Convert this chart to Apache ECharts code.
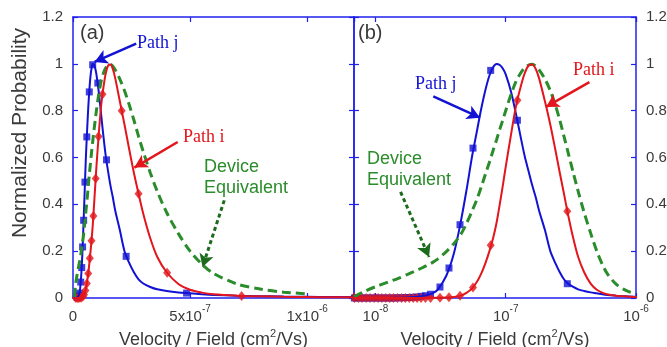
<!DOCTYPE html>
<html>
<head>
<meta charset="utf-8">
<script src="https://cdn.jsdelivr.net/npm/echarts@6/dist/echarts.min.js"></script>
<style>
  html, body { margin: 0; padding: 0; background: #fff; }
  #chart { width: 667px; height: 347px; }
</style>
</head>
<body>
<div id="chart"></div>
<script>
// velocity / field sample points (cm2/Vs), shared by both panels
var vf = [6.85e-9, 8e-9, 1e-8, 1.25e-8, 1.5e-8, 1.75e-8, 2e-8, 2.25e-8, 2.5e-8, 2.75e-8,
  3e-8, 3.5e-8, 4e-8, 4.5e-8, 5e-8, 5.5e-8, 6e-8, 6.5e-8, 7e-8, 7.5e-8,
  8e-8, 8.5e-8, 9e-8, 9.5e-8, 1e-7, 1.1e-7, 1.2e-7, 1.3e-7, 1.4e-7, 1.5e-7,
  1.6e-7, 1.7e-7, 1.8e-7, 2e-7, 2.2e-7, 2.4e-7, 2.6e-7, 2.8e-7, 3e-7, 3.3e-7,
  3.6e-7, 4e-7, 4.5e-7, 5e-7, 5.5e-7, 6e-7, 7e-7, 8e-7, 9e-7, 1e-6, 1.1e-6, 1.2e-6];

// normalized probability of each curve at vf
var pathJ = [0, 0, 0, 0, 0.001, 0.002, 0.004, 0.008, 0.013, 0.021,
  0.035, 0.095, 0.19, 0.32, 0.46, 0.6, 0.71, 0.81, 0.89, 0.95,
  0.985, 0.999, 0.995, 0.98, 0.955, 0.88, 0.785, 0.69, 0.605, 0.54,
  0.48, 0.43, 0.375, 0.29, 0.2, 0.15, 0.11, 0.08, 0.062, 0.047,
  0.037, 0.03, 0.024, 0.02, 0.016, 0.013, 0.01, 0.008, 0.006, 0.005, 0.004, 0.004];
var pathI = [0, 0, 0, 0, 0, 0, 0, 0, 0, 0,
  0.001, 0.002, 0.004, 0.01, 0.022, 0.04, 0.068, 0.105, 0.15, 0.2,
  0.255, 0.32, 0.4, 0.48, 0.56, 0.7, 0.82, 0.9, 0.96, 0.993,
  0.997, 0.978, 0.94, 0.84, 0.74, 0.635, 0.535, 0.445, 0.36, 0.255,
  0.175, 0.11, 0.06, 0.035, 0.023, 0.016, 0.01, 0.007, 0.005, 0.004, 0.003, 0.003];
var device = [0.005, 0.025, 0.048, 0.068, 0.084, 0.1, 0.114, 0.127, 0.14, 0.152,
  0.166, 0.198, 0.232, 0.27, 0.318, 0.37, 0.42, 0.475, 0.53, 0.58,
  0.63, 0.675, 0.72, 0.76, 0.8, 0.87, 0.925, 0.96, 0.983, 0.995,
  0.998, 0.99, 0.975, 0.935, 0.885, 0.825, 0.76, 0.69, 0.625, 0.535,
  0.455, 0.365, 0.275, 0.2, 0.145, 0.105, 0.06, 0.038, 0.025, 0.018, null, null];

// marker points, panel (a)
var jMarkA = [[1.8e-8, 0.002], [2.3e-8, 0.009], [2.75e-8, 0.021], [3.3e-8, 0.068], [3.73e-8, 0.13],
  [4.1e-8, 0.218], [4.55e-8, 0.332], [5.1e-8, 0.495], [5.9e-8, 0.688], [6.95e-8, 0.88],
  [8.4e-8, 0.996], [1.06e-7, 0.918], [1.43e-7, 0.59], [2.27e-7, 0.178], [4.85e-7, 0.021]];
var iMarkA = [[1.2e-8, 0], [1.8e-8, 0], [2.4e-8, 0], [3e-8, 0.001], [3.6e-8, 0.002],
  [4.2e-8, 0.006], [4.7e-8, 0.014], [5.3e-8, 0.032], [5.9e-8, 0.062], [6.5e-8, 0.105],
  [7.2e-8, 0.17], [7.9e-8, 0.245], [8.7e-8, 0.35], [9.7e-8, 0.51], [1.09e-7, 0.69],
  [1.26e-7, 0.87], [2.08e-7, 0.8], [2.8e-7, 0.445], [4.02e-7, 0.108], [7.2e-7, 0.009], [1.2e-6, 0.003]];

// marker points, panel (b): shared x, one y list per path
var markXB = [6.9e-9, 7.4e-9, 7.9e-9, 8.5e-9, 9.1e-9, 9.8e-9, 1.05e-8, 1.12e-8, 1.2e-8, 1.29e-8,
  1.38e-8, 1.48e-8, 1.59e-8, 1.7e-8, 1.82e-8, 1.95e-8, 2.09e-8, 2.24e-8, 2.42e-8,
  2.65e-8, 3.13e-8, 3.67e-8, 4.46e-8, 5.61e-8, 7.67e-8, 1.23e-7, 2.97e-7];
var jMarkB = [0, 0, 0, 0, 0, 0, 0, 0, 0, 0,
  0, 0.001, 0.001, 0.002, 0.002, 0.003, 0.004, 0.007, 0.01,
  0.016, 0.047, 0.128, 0.313, 0.64, 0.972, 0.759, 0.061];
var iMarkB = [0, 0, 0, 0, 0, 0, 0, 0, 0, 0,
  0, 0, 0, 0, 0, 0, 0, 0, 0,
  0, 0.001, 0.003, 0.01, 0.045, 0.225, 0.845, 0.37];

// annotation arrows [from, to] in data units
var arrowJA = [[2.7e-7, 1.086], [9.2e-8, 1.008]];
var arrowIA = [[4.47e-7, 0.666], [2.62e-7, 0.557]];
var arrowDA = [[6.46e-7, 0.417], [5.53e-7, 0.132]];
var arrowJB = [[2.78e-8, 0.861], [6.35e-8, 0.77]];
var arrowIB = [[4.39e-7, 0.922], [2.04e-7, 0.816]];
var arrowDB = [[1.56e-8, 0.453], [2.58e-8, 0.175]];

var blue = '#1212d4';
var red = '#e2161c';
var green = '#2a8c2a';
var dkGreen = '#1c6a1c';
var axisBlue = '#2020ee';
var txt = '#3a3a3a';
var sans = '"Liberation Sans", Arial, sans-serif';
var serif = '"Liberation Serif", "Times New Roman", serif';

function pairs (xs, ys) {
  return xs.map(function (x, i) { return [x, ys[i]]; });
}

var tickRich = {
  b: { fontSize: 15, fontFamily: sans, color: txt, padding: [5, 0, 0, 0], verticalAlign: 'bottom' },
  s: { fontSize: 10, fontFamily: sans, color: txt, verticalAlign: 'top' }
};
var nameRich = {
  t: { fontSize: 18, fontFamily: sans, color: txt, padding: [2, 0, 0, 0], verticalAlign: 'bottom' },
  s: { fontSize: 11, fontFamily: sans, color: txt, verticalAlign: 'top' }
};
var xName = '{t|Velocity / Field (cm}{s|2}{t|/Vs)}';

function near (a, b) { return Math.abs(a - b) < Math.abs(b) * 1e-6; }

function frameAxis (extra) {
  var o = {
    axisLine: { show: true, onZero: false, lineStyle: { color: axisBlue, width: 1.5 } },
    axisTick: { show: true, inside: true, length: 5, lineStyle: { color: axisBlue, width: 1.2 } },
    splitLine: { show: false },
    axisLabel: { show: false }
  };
  for (var k in extra) o[k] = extra[k];
  return o;
}

function yAxis (grid, pos, labels) {
  var o = frameAxis({ type: 'value', min: 0, max: 1.2, interval: 0.2, gridIndex: grid, position: pos });
  if (labels) {
    o.axisLabel = { show: true, color: txt, fontSize: 15, fontFamily: sans, margin: 10 };
  }
  return o;
}

var linAxis = { type: 'value', min: 0, max: 1.2e-6, interval: 5e-7 };
var logAxis = { type: 'log', logBase: 10, min: 6.85e-9, max: 1e-6 };

function xAxis (grid, base, pos, labels) {
  var o = frameAxis({ gridIndex: grid, position: pos });
  for (var k in base) o[k] = base[k];
  if (labels) {
    o.axisLabel = {
      show: true, margin: 6, showMinLabel: base.type !== 'log', showMaxLabel: base.type === 'log',
      rich: tickRich,
      formatter: base.type === 'log' ? function (v) {
        var n = Math.round(Math.log10(v));
        return near(v, Math.pow(10, n)) ? '{b|10}{s|' + n + '}' : '';
      } : function (v) {
        if (v === 0) return '{b|0}';
        if (near(v, 5e-7)) return '{b|5x10}{s|-7}';
        if (near(v, 1e-6)) return '{b|1x10}{s|-6}';
        return '';
      }
    };
    o.name = xName;
    o.nameLocation = 'middle';
    o.nameGap = 28;
    o.nameTextStyle = { rich: nameRich };
  }
  return o;
}

function arrow (pts, color, width, dash) {
  return {
    silent: true,
    animation: false,
    symbol: ['none', 'arrow'],
    symbolSize: [11, 13],
    label: { show: false },
    emphasis: { disabled: true },
    lineStyle: { color: color, width: width, type: dash || 'solid' },
    data: [[{ coord: pts[0] }, { coord: pts[1] }]]
  };
}

function panel (xi, yi, jMarks, iMarks, arrows) {
  var common = { xAxisIndex: xi, yAxisIndex: yi, animation: false, silent: true };
  function mk (o) { for (var k in common) o[k] = common[k]; return o; }
  return [
    mk({ type: 'line', data: pairs(vf, pathJ), smooth: 0.3, showSymbol: false,
      lineStyle: { color: blue, width: 2 }, markLine: arrows[0] }),
    mk({ type: 'scatter', data: jMarks, symbol: 'rect', symbolSize: 7, itemStyle: { color: blue } }),
    mk({ type: 'line', data: pairs(vf, device), smooth: 0.3, showSymbol: false, connectNulls: false,
      lineStyle: { color: green, width: 3, type: [9, 5] }, markLine: arrows[2] }),
    mk({ type: 'line', data: pairs(vf, pathI), smooth: 0.3, showSymbol: false,
      lineStyle: { color: red, width: 2 }, markLine: arrows[1] }),
    mk({ type: 'scatter', data: iMarks, symbol: 'diamond', symbolSize: [8, 10], itemStyle: { color: red } })
  ];
}

function label (x, y, text, color, family, size) {
  return {
    type: 'text', left: x, top: y, silent: true,
    style: { text: text, fill: color, fontFamily: family, fontSize: size, lineHeight: 21 }
  };
}

var chart = echarts.init(document.getElementById('chart'));
chart.setOption({
  animation: false,
  backgroundColor: '#fff',
  grid: [
    { left: 73, top: 17, width: 281, height: 281, outerBoundsMode: 'none' },
    { left: 354, top: 17, width: 282, height: 281, outerBoundsMode: 'none' }
  ],
  xAxis: [
    xAxis(0, linAxis, 'bottom', true),
    xAxis(0, linAxis, 'top', false),
    xAxis(1, logAxis, 'bottom', true),
    xAxis(1, logAxis, 'top', false)
  ],
  yAxis: [
    (function () {
      var o = yAxis(0, 'left', true);
      o.name = 'Normalized Probability';
      o.nameLocation = 'middle';
      o.nameGap = 42;
      o.nameTextStyle = { color: txt, fontSize: 21, fontFamily: sans, padding: [0, 0, 0, 49] };
      return o;
    })(),
    yAxis(0, 'right', false),
    yAxis(1, 'left', false),
    yAxis(1, 'right', true)
  ],
  series: [].concat(
    panel(0, 0, jMarkA, iMarkA, [arrow(arrowJA, blue, 2.5), arrow(arrowIA, red, 2.5), arrow(arrowDA, dkGreen, 3, [4, 3])]),
    panel(2, 3, pairs(markXB, jMarkB), pairs(markXB, iMarkB), [arrow(arrowJB, blue, 2.5), arrow(arrowIB, red, 2.5), arrow(arrowDB, dkGreen, 3, [4, 3])])
  ),
  graphic: [
    label(80, 23, '(a)', txt, sans, 20),
    label(137, 33, 'Path j', blue, serif, 18),
    label(183, 127, 'Path i', red, serif, 18),
    label(204, 157, 'Device\nEquivalent', green, sans, 18),
    label(358, 23, '(b)', txt, sans, 20),
    label(415, 74, 'Path j', blue, serif, 18),
    label(573, 60, 'Path i', red, serif, 18),
    label(367, 149, 'Device\nEquivalent', green, sans, 18)
  ]
});
</script>
</body>
</html>
